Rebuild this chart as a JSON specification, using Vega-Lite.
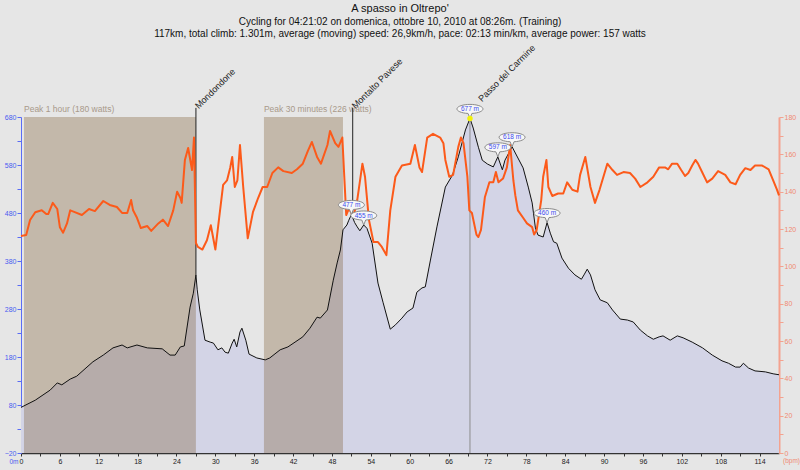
{
  "$schema": "https://vega.github.io/schema/vega-lite/v6.json",
  "width": 758,
  "height": 336,
  "autosize": {"type": "none"},
  "padding": {"left": 21, "top": 117, "right": 21, "bottom": 17},
  "background": "#e6e6e6",
  "config": {
    "view": {"stroke": null},
    "font": "Liberation Sans",
    "axis": {"grid": false, "labelFont": "Liberation Sans", "titleFont": "Liberation Sans", "labelFlush": false, "labelBound": false}
  },
  "title": {
    "text": "A spasso in Oltrepo'",
    "subtitle": [
      "Cycling for 04:21:02 on domenica, ottobre 10, 2010 at 08:26m. (Training)",
      "117km, total climb: 1.301m, average (moving) speed: 26,9km/h, pace: 02:13 min/km, average power: 157 watts"
    ],
    "anchor": "middle",
    "frame": "group",
    "fontSize": 11,
    "fontWeight": "normal",
    "color": "#111111",
    "subtitleFontSize": 10,
    "subtitleColor": "#111111",
    "subtitleLineHeight": 12,
    "subtitlePadding": 3,
    "offset": 4
  },
  "datasets": {
    "elev": [
      {"km": 0, "m": 75}, {"km": 2.2, "m": 90}, {"km": 4.5, "m": 111}, {"km": 5.6, "m": 126},
      {"km": 6.3, "m": 122}, {"km": 7.6, "m": 134}, {"km": 8.6, "m": 140}, {"km": 11.1, "m": 170},
      {"km": 12.7, "m": 184}, {"km": 14.2, "m": 199}, {"km": 15.6, "m": 205}, {"km": 16.4, "m": 199},
      {"km": 17.9, "m": 205}, {"km": 19.5, "m": 199}, {"km": 21.8, "m": 197}, {"km": 23.0, "m": 184},
      {"km": 23.8, "m": 184}, {"km": 24.6, "m": 201}, {"km": 25.2, "m": 203}, {"km": 26.1, "m": 284},
      {"km": 26.6, "m": 313}, {"km": 27.0, "m": 351}, {"km": 27.2, "m": 320}, {"km": 27.6, "m": 278},
      {"km": 28.4, "m": 215}, {"km": 29.2, "m": 211}, {"km": 29.7, "m": 209}, {"km": 30.4, "m": 195},
      {"km": 31.0, "m": 199}, {"km": 31.5, "m": 190}, {"km": 32.0, "m": 188}, {"km": 32.6, "m": 209},
      {"km": 32.9, "m": 217}, {"km": 33.3, "m": 201}, {"km": 33.8, "m": 232}, {"km": 34.1, "m": 240},
      {"km": 34.7, "m": 215}, {"km": 35.2, "m": 186}, {"km": 36.4, "m": 178}, {"km": 37.7, "m": 174},
      {"km": 38.4, "m": 178}, {"km": 40.0, "m": 195}, {"km": 41.2, "m": 201}, {"km": 42.3, "m": 211},
      {"km": 43.5, "m": 222}, {"km": 44.6, "m": 240}, {"km": 45.7, "m": 263}, {"km": 46.2, "m": 261},
      {"km": 47.3, "m": 278}, {"km": 48.2, "m": 340}, {"km": 48.8, "m": 376}, {"km": 49.3, "m": 403},
      {"km": 49.7, "m": 445}, {"km": 50.3, "m": 455}, {"km": 50.6, "m": 465}, {"km": 51.0, "m": 477},
      {"km": 51.5, "m": 460}, {"km": 51.9, "m": 451}, {"km": 52.3, "m": 443}, {"km": 52.9, "m": 455},
      {"km": 53.4, "m": 448}, {"km": 54.2, "m": 417}, {"km": 55.1, "m": 334}, {"km": 55.9, "m": 293},
      {"km": 57.0, "m": 238}, {"km": 57.8, "m": 247}, {"km": 58.8, "m": 261}, {"km": 59.6, "m": 274},
      {"km": 60.5, "m": 282}, {"km": 61.1, "m": 315}, {"km": 61.9, "m": 324}, {"km": 62.4, "m": 326},
      {"km": 63.2, "m": 382}, {"km": 64.2, "m": 451}, {"km": 65.5, "m": 534}, {"km": 66.6, "m": 559},
      {"km": 67.5, "m": 597}, {"km": 68.6, "m": 653}, {"km": 69.3, "m": 677}, {"km": 69.8, "m": 657},
      {"km": 70.6, "m": 617}, {"km": 71.2, "m": 590}, {"km": 72.0, "m": 582}, {"km": 72.9, "m": 576},
      {"km": 73.6, "m": 597}, {"km": 74.3, "m": 570}, {"km": 74.7, "m": 590}, {"km": 75.8, "m": 618},
      {"km": 76.3, "m": 605}, {"km": 77.5, "m": 574}, {"km": 78.3, "m": 534}, {"km": 78.9, "m": 501},
      {"km": 79.4, "m": 449}, {"km": 79.8, "m": 434}, {"km": 80.6, "m": 430}, {"km": 81.2, "m": 460},
      {"km": 81.7, "m": 438}, {"km": 82.2, "m": 420}, {"km": 82.7, "m": 417}, {"km": 83.5, "m": 386},
      {"km": 84.5, "m": 365}, {"km": 85.5, "m": 351}, {"km": 86.5, "m": 342}, {"km": 86.9, "m": 351},
      {"km": 87.4, "m": 363}, {"km": 87.9, "m": 351}, {"km": 88.6, "m": 320}, {"km": 89.4, "m": 299},
      {"km": 90.5, "m": 293}, {"km": 91.3, "m": 278}, {"km": 92.5, "m": 259}, {"km": 93.6, "m": 257},
      {"km": 94.5, "m": 253}, {"km": 95.6, "m": 236}, {"km": 96.7, "m": 224}, {"km": 97.6, "m": 217},
      {"km": 98.5, "m": 222}, {"km": 99.1, "m": 224}, {"km": 100.2, "m": 215}, {"km": 101.3, "m": 224},
      {"km": 102.2, "m": 220}, {"km": 103.6, "m": 211}, {"km": 105.2, "m": 199}, {"km": 106.7, "m": 184},
      {"km": 108.2, "m": 172}, {"km": 109.2, "m": 167}, {"km": 110.3, "m": 159}, {"km": 111.0, "m": 159},
      {"km": 111.5, "m": 167}, {"km": 112.3, "m": 157}, {"km": 113.3, "m": 151}, {"km": 114.9, "m": 149},
      {"km": 116.1, "m": 145}, {"km": 117.0, "m": 143}
    ],
    "hr": [
      {"km": 0, "bpm": 116.3}, {"km": 0.8, "bpm": 116.8}, {"km": 1.4, "bpm": 124.8}, {"km": 2.2, "bpm": 129},
      {"km": 3.2, "bpm": 130}, {"km": 3.9, "bpm": 128}, {"km": 4.2, "bpm": 128}, {"km": 4.9, "bpm": 134},
      {"km": 5.6, "bpm": 130.7}, {"km": 6.0, "bpm": 121}, {"km": 6.5, "bpm": 118}, {"km": 7.1, "bpm": 123},
      {"km": 7.6, "bpm": 130}, {"km": 8.3, "bpm": 129}, {"km": 9.4, "bpm": 127.5}, {"km": 10.5, "bpm": 130.7},
      {"km": 11.4, "bpm": 129.6}, {"km": 12.7, "bpm": 135}, {"km": 13.7, "bpm": 132.9}, {"km": 14.8, "bpm": 131.8},
      {"km": 15.6, "bpm": 128.6}, {"km": 16.4, "bpm": 128.6}, {"km": 17.0, "bpm": 135.5}, {"km": 17.3, "bpm": 130},
      {"km": 17.9, "bpm": 126}, {"km": 18.5, "bpm": 120.5}, {"km": 19.5, "bpm": 121.6}, {"km": 20.1, "bpm": 119},
      {"km": 21.2, "bpm": 123}, {"km": 21.9, "bpm": 125}, {"km": 22.7, "bpm": 121.6}, {"km": 23.5, "bpm": 130},
      {"km": 24.1, "bpm": 140}, {"km": 24.6, "bpm": 136.6}, {"km": 24.8, "bpm": 134}, {"km": 25.3, "bpm": 157},
      {"km": 25.8, "bpm": 163.4}, {"km": 26.4, "bpm": 151.6}, {"km": 26.7, "bpm": 169}, {"km": 27.0, "bpm": 112.5},
      {"km": 27.3, "bpm": 110.4}, {"km": 28.0, "bpm": 109}, {"km": 28.7, "bpm": 114}, {"km": 29.3, "bpm": 122},
      {"km": 30.0, "bpm": 109}, {"km": 30.6, "bpm": 126.4}, {"km": 31.2, "bpm": 143.6}, {"km": 31.8, "bpm": 146},
      {"km": 32.3, "bpm": 153}, {"km": 32.6, "bpm": 158.6}, {"km": 33.0, "bpm": 142.5}, {"km": 33.4, "bpm": 146},
      {"km": 33.8, "bpm": 165}, {"km": 34.3, "bpm": 142.5}, {"km": 35.0, "bpm": 115}, {"km": 35.8, "bpm": 129},
      {"km": 36.6, "bpm": 136.6}, {"km": 37.3, "bpm": 142.5}, {"km": 38.0, "bpm": 142.5}, {"km": 38.8, "bpm": 150},
      {"km": 39.7, "bpm": 153}, {"km": 40.5, "bpm": 151}, {"km": 41.8, "bpm": 150}, {"km": 42.6, "bpm": 152},
      {"km": 43.5, "bpm": 155}, {"km": 44.3, "bpm": 162}, {"km": 44.9, "bpm": 166.6}, {"km": 45.7, "bpm": 158.6},
      {"km": 46.3, "bpm": 155}, {"km": 47.3, "bpm": 165}, {"km": 47.7, "bpm": 172.5}, {"km": 48.5, "bpm": 166},
      {"km": 49.0, "bpm": 164}, {"km": 49.6, "bpm": 169}, {"km": 49.9, "bpm": 148}, {"km": 50.2, "bpm": 127.5},
      {"km": 50.5, "bpm": 130}, {"km": 50.8, "bpm": 130}, {"km": 51.3, "bpm": 126.4}, {"km": 51.9, "bpm": 135.5},
      {"km": 52.7, "bpm": 155}, {"km": 53.1, "bpm": 148}, {"km": 53.7, "bpm": 125}, {"km": 54.4, "bpm": 113},
      {"km": 55.1, "bpm": 113}, {"km": 55.7, "bpm": 110.4}, {"km": 56.4, "bpm": 106}, {"km": 57.0, "bpm": 130},
      {"km": 57.8, "bpm": 148}, {"km": 58.8, "bpm": 154}, {"km": 60.1, "bpm": 155}, {"km": 60.8, "bpm": 165},
      {"km": 61.5, "bpm": 153}, {"km": 61.9, "bpm": 150.5}, {"km": 62.7, "bpm": 169}, {"km": 63.6, "bpm": 171},
      {"km": 64.7, "bpm": 169}, {"km": 65.2, "bpm": 166}, {"km": 65.5, "bpm": 157}, {"km": 66.1, "bpm": 148},
      {"km": 66.7, "bpm": 149}, {"km": 67.5, "bpm": 164}, {"km": 67.9, "bpm": 169}, {"km": 68.3, "bpm": 166},
      {"km": 68.9, "bpm": 148}, {"km": 69.2, "bpm": 130}, {"km": 69.6, "bpm": 128.6}, {"km": 70.3, "bpm": 117},
      {"km": 70.6, "bpm": 115.7}, {"km": 71.0, "bpm": 119.5}, {"km": 71.6, "bpm": 137}, {"km": 72.3, "bpm": 145},
      {"km": 72.9, "bpm": 145}, {"km": 73.3, "bpm": 150.5}, {"km": 73.7, "bpm": 145}, {"km": 74.4, "bpm": 147},
      {"km": 75.0, "bpm": 153}, {"km": 75.5, "bpm": 165}, {"km": 76.0, "bpm": 146}, {"km": 76.3, "bpm": 138},
      {"km": 76.7, "bpm": 130}, {"km": 77.5, "bpm": 126}, {"km": 78.1, "bpm": 123}, {"km": 78.9, "bpm": 121},
      {"km": 79.2, "bpm": 117}, {"km": 79.6, "bpm": 119.5}, {"km": 80.3, "bpm": 135.5}, {"km": 80.6, "bpm": 148},
      {"km": 81.1, "bpm": 157}, {"km": 81.4, "bpm": 142.5}, {"km": 82.0, "bpm": 137.7}, {"km": 82.9, "bpm": 139},
      {"km": 83.7, "bpm": 139}, {"km": 84.3, "bpm": 145}, {"km": 85.1, "bpm": 141}, {"km": 85.9, "bpm": 140},
      {"km": 86.3, "bpm": 149}, {"km": 87.1, "bpm": 158.6}, {"km": 87.9, "bpm": 142.5}, {"km": 88.6, "bpm": 134},
      {"km": 89.3, "bpm": 141}, {"km": 90.5, "bpm": 155}, {"km": 91.3, "bpm": 151.6}, {"km": 92.0, "bpm": 149},
      {"km": 93.0, "bpm": 150.5}, {"km": 94.0, "bpm": 150}, {"km": 94.8, "bpm": 147}, {"km": 95.6, "bpm": 142.5},
      {"km": 96.7, "bpm": 145}, {"km": 97.6, "bpm": 148}, {"km": 98.5, "bpm": 153}, {"km": 99.4, "bpm": 153},
      {"km": 99.9, "bpm": 152}, {"km": 100.5, "bpm": 155}, {"km": 101.3, "bpm": 155}, {"km": 101.9, "bpm": 151.6},
      {"km": 102.5, "bpm": 148.4}, {"km": 103.0, "bpm": 150}, {"km": 103.6, "bpm": 154}, {"km": 104.1, "bpm": 157},
      {"km": 104.5, "bpm": 155}, {"km": 105.2, "bpm": 150}, {"km": 105.9, "bpm": 145}, {"km": 106.7, "bpm": 147},
      {"km": 107.6, "bpm": 151}, {"km": 108.7, "bpm": 149}, {"km": 109.5, "bpm": 145}, {"km": 110.3, "bpm": 144},
      {"km": 111.0, "bpm": 149}, {"km": 111.8, "bpm": 152.6}, {"km": 112.6, "bpm": 151.6}, {"km": 113.3, "bpm": 154},
      {"km": 114.4, "bpm": 154}, {"km": 115.4, "bpm": 152}, {"km": 116.1, "bpm": 146}, {"km": 116.7, "bpm": 141},
      {"km": 117.0, "bpm": 138}
    ],
    "peaks": [
      {"label": "Peak 1 hour (180 watts)", "start": 0.46, "end": 27.0},
      {"label": "Peak 30 minutes (226 watts)", "start": 37.5, "end": 49.7}
    ],
    "places": [
      {"name": "Mondondone", "km": 27.0, "m": 351},
      {"name": "Montalto Pavese", "km": 51.2, "m": 470}
    ],
    "pass": [
      {"name": "Passo del Carmine", "km": 69.3}
    ],
    "callouts": [
      {"km": 51.0, "m": 477, "label": "477 m"},
      {"km": 52.9, "m": 455, "label": "455 m"},
      {"km": 69.3, "m": 677, "label": "677 m"},
      {"km": 73.6, "m": 597, "label": "597 m"},
      {"km": 75.8, "m": 618, "label": "618 m"},
      {"km": 81.2, "m": 460, "label": "460 m"}
    ],
    "summit": [
      {"km": 69.3, "m": 677}
    ]
  },
  "layer": [
    {
      "layer": [
        {
          "data": {"name": "elev"},
          "mark": {"type": "area", "color": "#d3d4e6"},
          "encoding": {
            "x": {
              "field": "km", "type": "quantitative",
              "scale": {"domain": [0, 117], "nice": false, "zero": false},
              "axis": {
                "orient": "bottom", "title": null, "tickCount": 200, "format": "d",
                "values": [0, 3, 6, 9, 12, 15, 18, 21, 24, 27, 30, 33, 36, 39, 42, 45, 48, 51, 54, 57, 60, 63, 66, 69, 72, 75, 78, 81, 84, 87, 90, 93, 96, 99, 102, 105, 108, 111, 114],
                "labelExpr": "datum.value % 6 === 0 ? datum.label : ''",
                "labelOverlap": false, "labelFlush": false,
                "labelFontSize": 7, "labelColor": "#222222", "labelPadding": 1,
                "domainColor": "#333333", "tickColor": "#333333", "tickSize": 3, "domainWidth": 1.5
              }
            },
            "y": {
              "field": "m", "type": "quantitative",
              "scale": {"domain": [-20, 680], "nice": false, "zero": false},
              "axis": {
                "orient": "left", "tickCount": 200, "format": "d",
                "values": [-20, 30, 80, 130, 180, 230, 280, 330, 380, 430, 480, 530, 580, 630, 680],
                "labelExpr": "(datum.value + 20) % 100 === 0 ? datum.label : ''",
                "labelOverlap": false, "labelFlush": false,
                "labelFontSize": 7, "labelColor": "#4a5cf0", "labelPadding": 1,
                "domainColor": "#5a6cf5", "tickColor": "#5a6cf5", "tickSize": 4,
                "title": "0m", "titleAngle": 0, "titleFontSize": 6.5, "titleFontWeight": "normal",
                "titleColor": "#4a5cf0", "titleX": -3, "titleY": 344, "titleAlign": "right", "titleBaseline": "middle"
              }
            },
            "y2": {"datum": -20}
          }
        },
        {
          "mark": {"type": "rect", "color": "#bcc2ee"},
          "encoding": {"x": {"datum": -0.93}, "x2": {"datum": 0}}
        },
        {
          "data": {"name": "peaks"},
          "mark": {"type": "rect", "color": "#744f20", "opacity": 0.3},
          "encoding": {
            "x": {"field": "start", "type": "quantitative"},
            "x2": {"field": "end"}
          }
        },
        {
          "data": {"name": "peaks"},
          "mark": {"type": "text", "align": "left", "baseline": "bottom", "dy": -3, "fontSize": 8.5, "color": "#a8998a"},
          "encoding": {
            "x": {"field": "start", "type": "quantitative"},
            "y": {"datum": 680},
            "text": {"field": "label"}
          }
        },
        {
          "mark": {"type": "rule", "color": "#9a9a9a", "strokeWidth": 1},
          "encoding": {"x": {"datum": -2.8}, "x2": {"datum": 117}, "y": {"datum": 680}}
        },
        {
          "data": {"name": "elev"},
          "mark": {"type": "line", "color": "#111111", "strokeWidth": 1},
          "encoding": {
            "x": {"field": "km", "type": "quantitative"},
            "y": {"field": "m", "type": "quantitative"}
          }
        },
        {
          "data": {"name": "pass"},
          "mark": {"type": "rule", "color": "#8c8c8c", "strokeWidth": 1},
          "encoding": {
            "x": {"field": "km", "type": "quantitative"},
            "y": {"datum": -20},
            "y2": {"datum": 680}
          }
        },
        {
          "data": {"name": "places"},
          "mark": {"type": "rule", "color": "#222222", "strokeWidth": 1},
          "encoding": {
            "x": {"field": "km", "type": "quantitative"},
            "y": {"field": "m", "type": "quantitative"},
            "y2": {"datum": 699}
          }
        },
        {
          "data": {"name": "places"},
          "mark": {"type": "text", "angle": -45, "align": "left", "baseline": "middle", "dx": 1, "fontSize": 9, "color": "#222222"},
          "encoding": {
            "x": {"field": "km", "type": "quantitative"},
            "y": {"datum": 699},
            "text": {"field": "name"}
          }
        },
        {
          "data": {"name": "pass"},
          "mark": {"type": "text", "angle": -45, "align": "left", "baseline": "middle", "dx": 19, "dy": -5, "fontSize": 9, "color": "#222222"},
          "encoding": {
            "x": {"field": "km", "type": "quantitative"},
            "y": {"datum": 680},
            "text": {"field": "name"}
          }
        }
      ]
    },
    {
      "layer": [
        {
          "mark": {"type": "rect", "color": "#ebc4b9"},
          "encoding": {
            "x": {"datum": 117.36}, "x2": {"datum": 118.3},
            "y": {"datum": 97}, "y2": {"datum": 177}
          }
        },
        {
          "data": {"name": "hr"},
          "mark": {"type": "line", "color": "#fc5a1a", "strokeWidth": 2, "strokeJoin": "round"},
          "encoding": {
            "x": {"field": "km", "type": "quantitative"},
            "y": {
              "field": "bpm", "type": "quantitative",
              "scale": {"domain": [0, 180], "nice": false, "zero": false},
              "axis": {
                "orient": "right", "tickCount": 200, "format": "d",
                "values": [0, 10, 20, 30, 40, 50, 60, 70, 80, 90, 100, 110, 120, 130, 140, 150, 160, 170, 180],
                "labelExpr": "datum.value % 20 === 0 ? datum.label : ''",
                "labelOverlap": false, "labelFlush": false,
                "labelFontSize": 7, "labelColor": "#f08a72", "labelPadding": 1,
                "domainColor": "#f4a28f", "domainWidth": 2, "tickColor": "#f4a28f", "tickSize": 4,
                "title": "(bpm)", "titleAngle": 0, "titleFontSize": 6.5, "titleFontWeight": "normal",
                "titleColor": "#f08a72", "titleX": 12, "titleY": 343, "titleAlign": "center", "titleBaseline": "middle"
              }
            }
          }
        }
      ]
    },
    {
      "layer": [
        {
          "data": {"name": "callouts"},
          "mark": {
            "type": "point", "filled": true, "fill": "#f7f7f7", "stroke": "#8a8a8a", "strokeWidth": 1, "opacity": 1,
            "size": 676,
            "shape": "M-0.15,-0.384 L0,0 L0.15,-0.384 A1,0.35 0 1,0 -0.15,-0.384 Z"
          },
          "encoding": {
            "x": {"field": "km", "type": "quantitative"},
            "y": {
              "field": "m", "type": "quantitative",
              "scale": {"domain": [-20, 680], "nice": false, "zero": false},
              "axis": null
            }
          }
        },
        {
          "data": {"name": "callouts"},
          "mark": {"type": "text", "dy": -9.5, "baseline": "middle", "align": "center", "fontSize": 6.5, "color": "#3b4cf0"},
          "encoding": {
            "x": {"field": "km", "type": "quantitative"},
            "y": {"field": "m", "type": "quantitative"},
            "text": {"field": "label"}
          }
        },
        {
          "data": {"name": "summit"},
          "mark": {"type": "point", "filled": true, "color": "#f2f20a", "size": 30, "opacity": 1},
          "encoding": {
            "x": {"field": "km", "type": "quantitative"},
            "y": {"field": "m", "type": "quantitative"}
          }
        }
      ]
    }
  ],
  "resolve": {"scale": {"y": "independent"}, "axis": {"y": "independent"}}
}
